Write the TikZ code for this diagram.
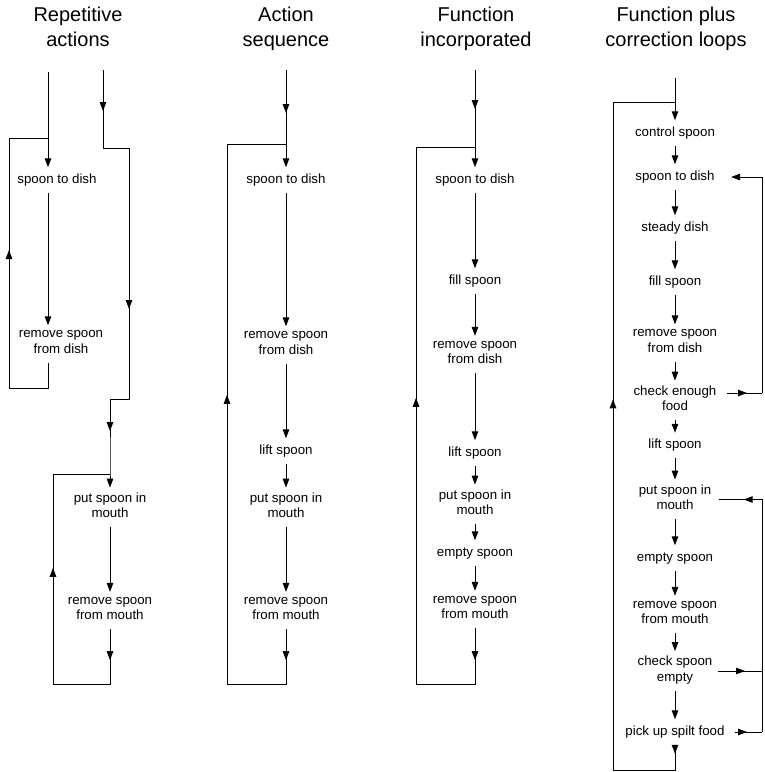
\documentclass[tikz,border=0pt]{standalone}
\usepackage{fontspec}
\setmainfont{Liberation Sans}
\usetikzlibrary{arrows.meta,decorations.markings}

\newcommand{\actsize}{\fontsize{13.3}{15.5}\selectfont}
\newcommand{\headsize}{\fontsize{20}{25}\selectfont}

\tikzset{
  act/.style={font=\actsize, align=center, inner xsep=2pt, inner ysep=4.5pt,
    execute at begin node=\strut, execute at end node=\strut},
  head/.style={font=\headsize, align=center, anchor=north, inner sep=0pt},
  arrowat/.style={postaction={decorate,
    decoration={markings, mark=at position #1 with {\arrow{>}}}}}
}

\begin{document}
\begin{tikzpicture}[x=1pt, y=-1pt, line width=1pt,
    >={Triangle[length=9pt,width=6.5pt]}]
    \useasboundingbox (0,0) rectangle (765,772);

    % Titles
    \node[head] (h1) at (78,6.7) {Repetitive\\actions};
    \node[head] (h2) at (286,6.7) {Action\\sequence};
    \node[head] (h3) at (476,6.7) {Function\\incorporated};
    \node[head] (h4) at (676,6.7) {Function plus\\correction loops};

    % Repetitive actions
    \node[act] (r1) at (57,180) {spoon to dish};
    \node[act] (r2) at (61,344) {remove spoon\\from dish};
    \node[act] (r3) at (110,507.5) {put spoon in\\mouth};
    \node[act] (r4) at (110,610.5) {remove spoon\\from mouth};
    \coordinate (r1top) at (48,72);
    \coordinate (r1j) at (48,138);
    \coordinate (r2top) at (103,70);
    \coordinate (r2j) at (110,474);

    \draw[->] (r1top) -- (r1top |- r1.north);
    \draw[->] (r1top |- r1.south) -- (r1top |- r2.north);
    \draw[arrowat=-151pt] (r1top |- r2.south) -- (48,388) -- (9,388) -- (9,138) -- (r1j);
    \draw[arrowat=41pt, arrowat=265pt, arrowat=406pt, ->] (r2top) -- (103,148)
        -- (129,148) -- (129,399) -- (110,399) -- (r2j) -- (r3);
    \draw[->] (r3) -- (r4);
    \draw[arrowat=31pt, arrowat=228pt] (r4) -- (110,684) -- (53,684) -- (53,474) -- (r2j);

    % Action sequence
    \node[act] (s1) at (286,180) {spoon to dish};
    \node[act] (s2) at (286,345) {remove spoon\\from dish};
    \node[act] (s3) at (286,451) {lift spoon};
    \node[act] (s4) at (286,507.5) {put spoon in\\mouth};
    \node[act] (s5) at (286,610.5) {remove spoon\\from mouth};
    \coordinate (s0) at (286,70);
    \coordinate (sj) at (286,144);

    \draw[arrowat=43pt, ->] (s0) -- (s1);
    \draw[->] (s1) -- (s2);
    \draw[->] (s2) -- (s3);
    \draw[->] (s3) -- (s4);
    \draw[->] (s4) -- (s5);
    \draw[arrowat=31pt, arrowat=403pt] (s5) -- (286,684) -- (227,684) -- (227,144) -- (sj);

    % Function incorporated
    \node[act] (f1) at (475,180) {spoon to dish};
    \node[act] (f2) at (475,281) {fill spoon};
    \node[act] (f3) at (475,354.5) {remove spoon\\from dish};
    \node[act] (f4) at (475,453) {lift spoon};
    \node[act] (f5) at (475,504.5) {put spoon in\\mouth};
    \node[act] (f6) at (475,553) {empty spoon};
    \node[act] (f7) at (475,609.5) {remove spoon\\from mouth};
    \coordinate (f0) at (475,70);
    \coordinate (fj) at (475,147);

    \draw[arrowat=39pt, ->] (f0) -- (f1);
    \draw[->] (f1) -- (f2);
    \draw[->] (f2) -- (f3);
    \draw[->] (f3) -- (f4);
    \draw[->] (f4) -- (f5);
    \draw[->] (f5) -- (f6);
    \draw[->] (f6) -- (f7);
    \draw[arrowat=32pt, arrowat=401pt] (f7) -- (475,684) -- (416,684) -- (416,147) -- (fj);

    % Function plus correction loops
    \node[act] (c1) at (675,133) {control spoon};
    \node[act] (c2) at (675,177) {spoon to dish};
    \node[act] (c3) at (675,228) {steady dish};
    \node[act] (c4) at (675,282) {fill spoon};
    \node[act] (c5) at (675,343) {remove spoon\\from dish};
    \node[act] (c6) at (675,400.5) {check enough\\food};
    \node[act] (c7) at (675,445.5) {lift spoon};
    \node[act] (c8) at (675,499.5) {put spoon in\\mouth};
    \node[act] (c9) at (675,558) {empty spoon};
    \node[act] (c10) at (675,614.5) {remove spoon\\from mouth};
    \node[act] (c11) at (675,671) {check spoon\\empty};
    \node[act] (c12) at (675,732) {pick up spilt food};
    \coordinate (c0) at (675,78);
    \coordinate (cj) at (675,102);

    \draw[->] (c0) -- (c1);
    \foreach \a/\b in {c1/c2,c2/c3,c3/c4,c4/c5,c5/c6,c6/c7,c7/c8,c8/c9,c9/c10,c10/c11,c11/c12}
        \draw[->] (\a) -- (\b);
    \draw[arrowat=9pt, arrowat=458pt] (c12) -- (675,770) -- (613,770) -- (613,102) -- (cj);

    % correction loops
    \coordinate (k1) at (762,393);
    \coordinate (k2) at (762,177);
    \coordinate (k3) at (762,499.5);
    \coordinate (k4) at (762,671);
    \coordinate (k5) at (762,732);
    \draw[arrowat=-15pt] ([xshift=8pt,yshift=7.5pt]c6.east) -- (k1);
    \draw[->] (k1) -- (k2) -- ([xshift=14pt]c2.east);
    \draw[arrowat=-17pt] ([xshift=3pt]c11.east) -- (k4);
    \draw[arrowat=-15pt] ([xshift=8pt]c12.east) -- (k5);
    \draw[arrowat=-25pt] (k5) -- (k3) -- ([xshift=5pt]c8.east);
\end{tikzpicture}
\end{document}
